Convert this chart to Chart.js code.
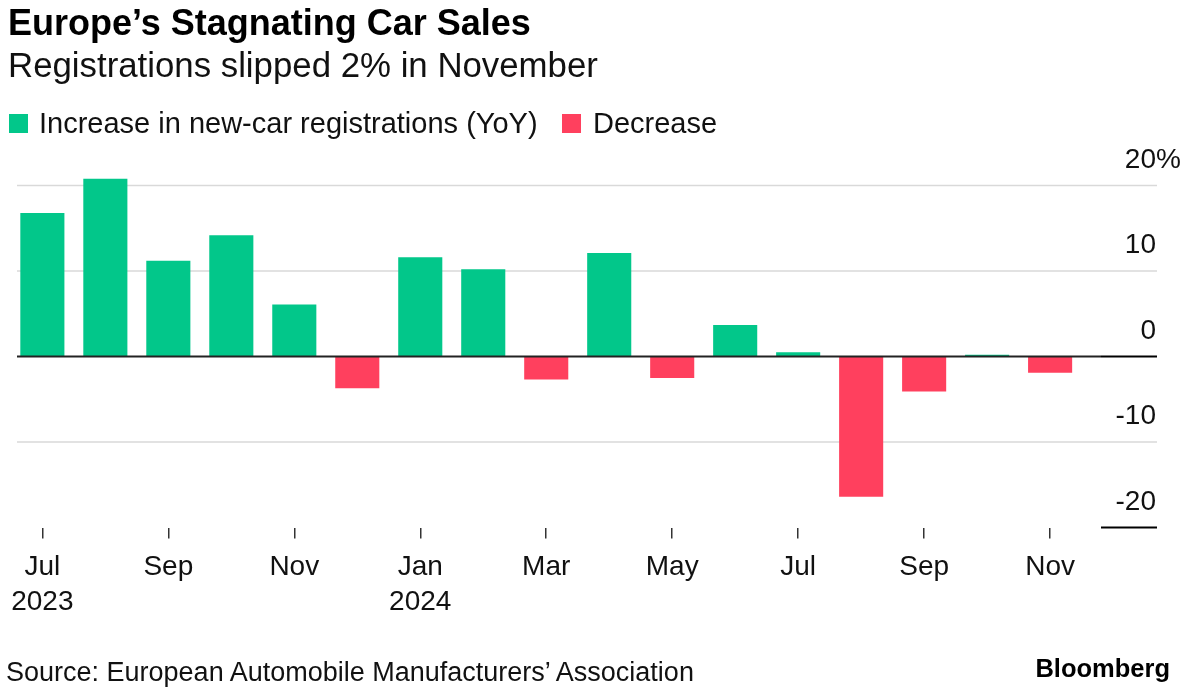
<!DOCTYPE html>
<html>
<head>
<meta charset="utf-8">
<script src="https://cdn.jsdelivr.net/npm/chart.js@4.4.1/dist/chart.umd.min.js"></script>
<style>
  body { margin: 0; background: #fff; }
  #wrap { position: relative; width: 1185px; height: 693px; overflow: hidden; font-family: "Liberation Sans", Arial, sans-serif; color: #111; }
  #wrap canvas { position: absolute; left: 0; top: 0; }
  .txt { position: absolute; white-space: nowrap; line-height: 1; }
  .title { left: 8px; top: 5px; font-size: 36px; font-weight: bold; color: #000; }
  .sub { left: 8px; top: 48px; font-size: 34.8px; }
  .leg { top: 108.5px; font-size: 29px; }
  .sw { position: absolute; top: 114px; width: 19px; height: 19px; }
  .src { left: 6px; top: 659px; font-size: 27px; }
  .brand { right: 15px; top: 656px; font-size: 25.5px; font-weight: bold; color: #000; }
</style>
</head>
<body>
<div id="wrap">
  <canvas id="chart" width="1185" height="693"></canvas>
  <div class="txt title">Europe’s Stagnating Car Sales</div>
  <div class="txt sub">Registrations slipped 2% in November</div>
  <div class="sw" style="left:9px;background:#02c78a"></div>
  <div class="txt leg" style="left:39px">Increase in new-car registrations (YoY)</div>
  <div class="sw" style="left:562px;background:#ff405e"></div>
  <div class="txt leg" style="left:593px">Decrease</div>
  <div class="txt src">Source: European Automobile Manufacturers’ Association</div>
  <div class="txt brand">Bloomberg</div>
</div>
<script>
// months Jul 2023 .. Nov 2024, YoY change in %
const months = ['Jul 2023', 'Aug 2023', 'Sep 2023', 'Oct 2023', 'Nov 2023', 'Dec 2023',
                'Jan 2024', 'Feb 2024', 'Mar 2024', 'Apr 2024', 'May 2024', 'Jun 2024',
                'Jul 2024', 'Aug 2024', 'Sep 2024', 'Oct 2024', 'Nov 2024'];
const yoyChange = [16.8, 20.8, 11.2, 14.2, 6.1, -3.7, 11.6, 10.2, -2.7, 12.1, -2.5, 3.7, 0.5, -16.4, -4.1, 0.2, -1.9];
const xTickLabels = [['Jul', '2023'], '', 'Sep', '', 'Nov', '', ['Jan', '2024'], '', 'Mar', '', 'May', '', 'Jul', '', 'Sep', '', 'Nov'];
const yTicks = [20, 10, 0, -10, -20];
const yTickLabels = ['20%', '10', '0', '-10', '-20'];

const green = '#02c78a';
const red = '#ff405e';
const font = '"Liberation Sans", Arial, sans-serif';

// horizontal rules run from the first bar to the label column
const gridLeft = 17, labelLeft = 1101, gridRight = 1157;

function hline(ctx, x1, x2, y) {
    ctx.beginPath();
    ctx.moveTo(x1, y);
    ctx.lineTo(x2, y);
    ctx.stroke();
}

const frame = {
    id: 'frame',
    beforeDatasetsDraw(chart) {
        const ctx = chart.ctx, y = chart.scales.y;
        ctx.save();
        ctx.lineWidth = 1.6;
        ctx.strokeStyle = '#d9d9d9';
        yTicks.forEach((v, i) => {
            if (v === 0 || i === yTicks.length - 1) return;
            hline(ctx, gridLeft, gridRight, y.getPixelForValue(v));
        });
        ctx.restore();
    },
    afterDatasetsDraw(chart) {
        const ctx = chart.ctx, y = chart.scales.y;
        ctx.save();
        const y0 = y.getPixelForValue(0);
        ctx.strokeStyle = '#222';
        ctx.lineWidth = 1.8;
        hline(ctx, gridLeft, labelLeft, y0);
        ctx.strokeStyle = '#000';
        ctx.lineWidth = 2.2;
        hline(ctx, labelLeft, gridRight, y0);
        hline(ctx, labelLeft, gridRight, y.getPixelForValue(yTicks[yTicks.length - 1]));

        ctx.fillStyle = '#111';
        ctx.font = '28px ' + font;
        ctx.textBaseline = 'alphabetic';
        yTicks.forEach((v, i) => {
            const py = y.getPixelForValue(v) - 18;
            const lab = yTickLabels[i];
            ctx.textAlign = 'right';
            ctx.fillText(lab.replace('%', ''), gridRight - 1, py);
            if (lab.endsWith('%')) {
                ctx.textAlign = 'left';
                ctx.fillText('%', gridRight - 1, py);
            }
        });
        ctx.restore();
    }
};

new Chart(document.getElementById('chart').getContext('2d'), {
    type: 'bar',
    data: {
        labels: months,
        datasets: [{
            label: 'Increase in new-car registrations (YoY)',
            data: yoyChange.map(v => v >= 0 ? v : null),
            backgroundColor: green
        }, {
            label: 'Decrease',
            data: yoyChange.map(v => v < 0 ? v : null),
            backgroundColor: red
        }]
    },
    options: {
        responsive: false,
        animation: false,
        datasets: { bar: { grouped: false, categoryPercentage: 1, barPercentage: 0.7 } },
        layout: { padding: { left: 7.4, right: 103.4, top: 177, bottom: 65.5 } },
        plugins: {
            legend: { display: false },
            tooltip: { enabled: false }
        },
        scales: {
            x: {
                grid: {
                    offset: false,
                    drawOnChartArea: false,
                    tickLength: 11,
                    lineWidth: 1.5,
                    tickColor: c => xTickLabels[c.index] ? '#333' : 'rgba(0,0,0,0)'
                },
                border: { display: false },
                ticks: {
                    autoSkip: false,
                    maxRotation: 0,
                    padding: 11,
                    color: '#111',
                    font: { family: font, size: 28, lineHeight: 1.25 },
                    callback: (v, i) => xTickLabels[i]
                },
                afterFit: s => { s.height = 100; }
            },
            y: { display: false, min: -20, max: 21 }
        }
    },
    plugins: [frame]
});
</script>
</body>
</html>
